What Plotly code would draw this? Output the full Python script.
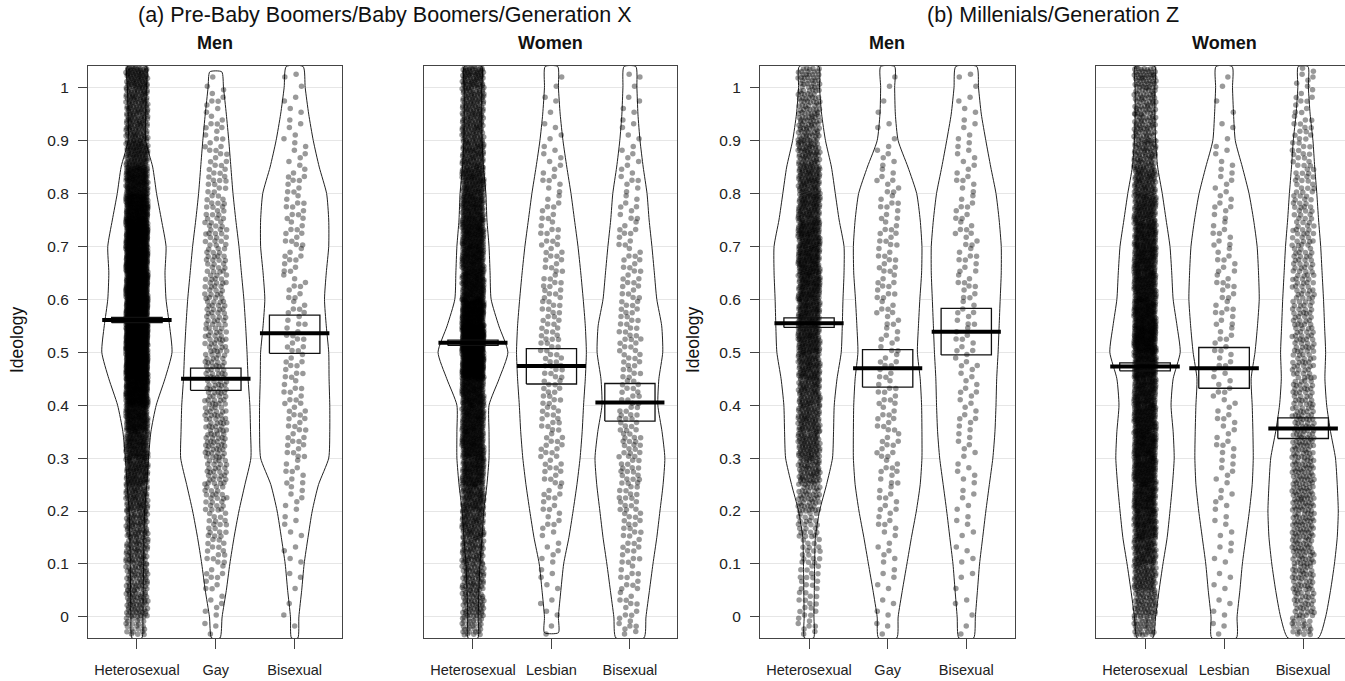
import plotly.graph_objects as go

# ---------------- data ----------------
CATS_MEN = ["Heterosexual", "Gay", "Bisexual"]
CATS_WOMEN = ["Heterosexual", "Lesbian", "Bisexual"]
Y_TICKS = [0, 0.1, 0.2, 0.3, 0.4, 0.5, 0.6, 0.7, 0.8, 0.9, 1]
Y_TICK_TEXT = ["0", "0.1", "0.2", "0.3", "0.4", "0.5", "0.6", "0.7", "0.8", "0.9", "1"]

# violin outline: relative density at these ideology levels
Y_GRID = [-0.04, 0.0, 0.05, 0.1, 0.15, 0.2, 0.25, 0.3, 0.35, 0.4, 0.45, 0.5,
          0.55, 0.6, 0.65, 0.7, 0.75, 0.8, 0.85, 0.9, 0.95, 1.0, 1.04]

DENS_A_MEN_HET = [0.14, 0.17, 0.18, 0.19, 0.20, 0.22, 0.28, 0.33, 0.40, 0.55, 0.80, 1.0,
                  0.93, 0.83, 0.80, 0.83, 0.70, 0.56, 0.45, 0.25, 0.25, 0.27, 0.27]
DENS_A_MEN_GAY = [0.12, 0.18, 0.30, 0.40, 0.52, 0.66, 0.83, 1.0, 0.99, 0.97, 0.92, 0.89,
                  0.85, 0.80, 0.73, 0.66, 0.57, 0.49, 0.43, 0.37, 0.30, 0.22, 0.17]
DENS_A_MEN_BI = [0.09, 0.12, 0.20, 0.27, 0.38, 0.50, 0.68, 0.97, 1.0, 1.0, 0.98, 0.97,
                 0.90, 0.85, 0.90, 0.97, 0.97, 0.91, 0.70, 0.53, 0.40, 0.30, 0.24]
DENS_A_WOM_HET = [0.14, 0.15, 0.17, 0.20, 0.26, 0.31, 0.40, 0.46, 0.46, 0.46, 0.75, 1.0,
                  0.74, 0.52, 0.49, 0.46, 0.40, 0.37, 0.30, 0.26, 0.25, 0.25, 0.25]
DENS_A_WOM_LES = [0.20, 0.20, 0.27, 0.35, 0.50, 0.62, 0.73, 0.82, 0.88, 0.92, 0.97, 1.0,
                  0.97, 0.91, 0.84, 0.76, 0.66, 0.56, 0.44, 0.33, 0.25, 0.20, 0.18]
DENS_A_WOM_BI = [0.40, 0.46, 0.56, 0.66, 0.77, 0.86, 0.95, 1.0, 0.92, 0.80, 0.83, 0.94,
                 0.91, 0.77, 0.70, 0.63, 0.55, 0.49, 0.38, 0.29, 0.23, 0.20, 0.17]
DENS_B_MEN_HET = [0.13, 0.14, 0.15, 0.16, 0.18, 0.30, 0.50, 0.67, 0.70, 0.72, 0.80, 0.92,
                  0.95, 0.97, 1.0, 1.0, 0.86, 0.75, 0.64, 0.47, 0.36, 0.30, 0.28]
DENS_B_MEN_GAY = [0.26, 0.30, 0.42, 0.55, 0.68, 0.82, 0.93, 0.98, 0.98, 0.97, 0.93, 0.85,
                  0.88, 0.92, 0.97, 0.98, 0.93, 0.83, 0.58, 0.30, 0.22, 0.20, 0.20]
DENS_B_MEN_BI = [0.21, 0.26, 0.32, 0.38, 0.47, 0.56, 0.66, 0.76, 0.82, 0.85, 0.87, 0.91,
                 0.94, 0.97, 1.0, 1.0, 0.94, 0.85, 0.70, 0.56, 0.43, 0.35, 0.30]
DENS_B_WOM_HET = [0.22, 0.30, 0.40, 0.51, 0.63, 0.71, 0.78, 0.83, 0.80, 0.74, 0.80, 1.0,
                  0.91, 0.80, 0.76, 0.71, 0.60, 0.49, 0.36, 0.30, 0.28, 0.28, 0.28]
DENS_B_WOM_LES = [0.35, 0.37, 0.45, 0.52, 0.62, 0.72, 0.80, 0.83, 0.82, 0.80, 0.77, 0.88,
                  0.95, 1.0, 0.98, 0.94, 0.84, 0.71, 0.52, 0.32, 0.27, 0.24, 0.23]
DENS_B_WOM_BI = [0.43, 0.64, 0.78, 0.89, 0.97, 1.0, 0.97, 0.92, 0.78, 0.67, 0.62, 0.64,
                 0.61, 0.58, 0.54, 0.50, 0.44, 0.39, 0.33, 0.28, 0.20, 0.15, 0.14]

# data extent of each violin (min, max ideology)
EXT_A_MEN = [(-0.04, 1.04), (-0.04, 1.03), (-0.04, 1.04)]
EXT_A_WOM = [(-0.04, 1.04), (-0.03, 1.04), (-0.04, 1.04)]
EXT_B_MEN = [(-0.04, 1.04), (-0.04, 1.04), (-0.04, 1.04)]
EXT_B_WOM = [(-0.04, 1.04), (-0.04, 1.04), (-0.04, 1.04)]

# respondents per 0.05-wide ideology bin (bins from -0.05 to 1.05)
BIN_LO = [-0.035, 0.0, 0.05, 0.1, 0.15, 0.2, 0.25, 0.3, 0.35, 0.4, 0.45,
          0.5, 0.55, 0.6, 0.65, 0.7, 0.75, 0.8, 0.85, 0.9, 0.95, 1.0]
BIN_HI = [0.0, 0.05, 0.1, 0.15, 0.2, 0.25, 0.3, 0.35, 0.4, 0.45, 0.5,
          0.55, 0.6, 0.65, 0.7, 0.75, 0.8, 0.85, 0.9, 0.95, 1.0, 1.04]

CNT_A_MEN_HET = [21, 63, 63, 70, 77, 91, 112, 133, 168, 238, 336, 350, 308, 280, 287, 266, 224, 168, 112, 91, 91, 84]
CNT_A_MEN_GAY = [3, 6, 10, 14, 18, 24, 30, 36, 34, 33, 32, 30, 28, 26, 24, 22, 18, 15, 12, 10, 8, 2]
CNT_A_MEN_BI = [1, 2, 3, 4, 5, 7, 9, 12, 12, 11, 11, 11, 10, 9, 10, 11, 11, 10, 7, 5, 4, 3]
CNT_A_WOM_HET = [28, 63, 70, 77, 91, 105, 133, 154, 154, 168, 280, 364, 238, 175, 161, 154, 133, 119, 98, 87, 84, 77]
CNT_A_WOM_LES = [2, 4, 5, 6, 8, 10, 12, 13, 14, 14, 15, 15, 14, 13, 12, 11, 9, 8, 6, 4, 3, 2]
CNT_A_WOM_BI = [8, 10, 11, 12, 14, 16, 18, 19, 17, 14, 14, 15, 14, 12, 11, 10, 9, 8, 6, 5, 4, 3]
CNT_B_MEN_HET = [8, 14, 15, 18, 25, 45, 72, 85, 88, 91, 104, 117, 120, 126, 130, 124, 107, 94, 75, 57, 46, 36]
CNT_B_MEN_GAY = [3, 4, 5, 6, 8, 9, 10, 11, 11, 11, 10, 9, 10, 11, 11, 11, 10, 9, 6, 3, 2, 2]
CNT_B_MEN_BI = [2, 3, 3, 4, 5, 5, 6, 7, 8, 8, 8, 9, 9, 10, 10, 10, 9, 8, 7, 5, 4, 3]
CNT_B_WOM_HET = [33, 65, 85, 104, 124, 137, 150, 156, 150, 143, 163, 195, 169, 150, 143, 130, 111, 91, 72, 59, 55, 52]
CNT_B_WOM_LES = [3, 4, 4, 5, 5, 6, 7, 8, 8, 8, 8, 9, 10, 10, 9, 9, 8, 7, 5, 3, 2, 2]
CNT_B_WOM_BI = [20, 35, 40, 45, 48, 50, 48, 45, 38, 33, 31, 32, 30, 28, 27, 25, 22, 19, 16, 13, 10, 7]

# group means and 95% confidence intervals
MEAN_A_MEN = [0.561, 0.450, 0.536]
CILO_A_MEN = [0.556, 0.428, 0.498]
CIHI_A_MEN = [0.566, 0.470, 0.570]
MEAN_A_WOM = [0.518, 0.474, 0.405]
CILO_A_WOM = [0.513, 0.440, 0.370]
CIHI_A_WOM = [0.523, 0.507, 0.441]
MEAN_B_MEN = [0.555, 0.470, 0.539]
CILO_B_MEN = [0.547, 0.434, 0.495]
CIHI_B_MEN = [0.565, 0.505, 0.583]
MEAN_B_WOM = [0.473, 0.470, 0.356]
CILO_B_WOM = [0.465, 0.432, 0.337]
CIHI_B_WOM = [0.480, 0.509, 0.376]

# ---------------- layout constants ----------------
W, H = 1345, 681
FONT = "Liberation Sans, Arial, Helvetica, sans-serif"
VIOLIN_HW = 0.445   # max half-width of a violin (category units)
MEAN_HW = 0.44
BOX_HW = 0.32
JITTER = 0.14

PANELS = [
    dict(cats=CATS_MEN, dens=[DENS_A_MEN_HET, DENS_A_MEN_GAY, DENS_A_MEN_BI], ext=EXT_A_MEN,
         cnt=[CNT_A_MEN_HET, CNT_A_MEN_GAY, CNT_A_MEN_BI],
         mean=MEAN_A_MEN, lo=CILO_A_MEN, hi=CIHI_A_MEN,
         px=(88, 342), xr=[0.38, 3.6], ylab=True),
    dict(cats=CATS_WOMEN, dens=[DENS_A_WOM_HET, DENS_A_WOM_LES, DENS_A_WOM_BI], ext=EXT_A_WOM,
         cnt=[CNT_A_WOM_HET, CNT_A_WOM_LES, CNT_A_WOM_BI],
         mean=MEAN_A_WOM, lo=CILO_A_WOM, hi=CIHI_A_WOM,
         px=(424, 677), xr=[0.376, 3.6], ylab=False),
    dict(cats=CATS_MEN, dens=[DENS_B_MEN_HET, DENS_B_MEN_GAY, DENS_B_MEN_BI], ext=EXT_B_MEN,
         cnt=[CNT_B_MEN_HET, CNT_B_MEN_GAY, CNT_B_MEN_BI],
         mean=MEAN_B_MEN, lo=CILO_B_MEN, hi=CIHI_B_MEN,
         px=(760, 1015), xr=[0.376, 3.62], ylab=True),
    dict(cats=CATS_WOMEN, dens=[DENS_B_WOM_HET, DENS_B_WOM_LES, DENS_B_WOM_BI], ext=EXT_B_WOM,
         cnt=[CNT_B_WOM_HET, CNT_B_WOM_LES, CNT_B_WOM_BI],
         mean=MEAN_B_WOM, lo=CILO_B_WOM, hi=CIHI_B_WOM,
         px=(1096, 1345), xr=[0.38, 3.53], ylab=False),
]

A1, A2 = 0.7548776662, 0.5698402910


def jitter_points(center, counts):
    xs, ys = [], []
    k = 0
    for lo, hi, n in zip(BIN_LO, BIN_HI, counts):
        for j in range(n):
            ys.append(lo + (hi - lo) * ((0.5 + j * A2) % 1.0))
            xs.append(center + JITTER * (2 * ((0.5 + k * A1) % 1.0) - 1))
            k += 1
    return xs, ys


fig = go.Figure()
ydom = [1 - 638 / H, 1 - 66 / H]

for i, p in enumerate(PANELS):
    xa = "x" if i == 0 else f"x{i+1}"
    ya = "y" if i == 0 else f"y{i+1}"
    # violins
    for g in range(3):
        c = g + 1
        yy = list(Y_GRID)
        yy[0], yy[-1] = p["ext"][g]
        d = p["dens"][g]
        xr = [c + VIOLIN_HW * v for v in d]
        xl = [c - VIOLIN_HW * v for v in d]
        fig.add_trace(go.Scatter(
            x=xr + xl[::-1] + [xr[0]], y=yy + yy[::-1] + [yy[0]],
            mode="lines", fill="toself", fillcolor="white",
            line=dict(color="#222", width=1, shape="spline", smoothing=0.6),
            xaxis=xa, yaxis=ya, hoverinfo="skip"))
    # points
    for g in range(3):
        xs, ys = jitter_points(g + 1, p["cnt"][g])
        fig.add_trace(go.Scatter(
            x=xs, y=ys, mode="markers",
            marker=dict(size=5.5, color="rgba(0,0,0,0.40)", line=dict(width=0)),
            xaxis=xa, yaxis=ya, hoverinfo="skip"))
    # CI boxes and means
    for g in range(3):
        c = g + 1
        lo, hi, m = p["lo"][g], p["hi"][g], p["mean"][g]
        fig.add_trace(go.Scatter(
            x=[c - BOX_HW, c + BOX_HW, c + BOX_HW, c - BOX_HW, c - BOX_HW],
            y=[lo, lo, hi, hi, lo], mode="lines",
            line=dict(color="#111", width=1.3),
            xaxis=xa, yaxis=ya, hoverinfo="skip"))
        fig.add_trace(go.Scatter(
            x=[c - MEAN_HW, c + MEAN_HW], y=[m, m], mode="lines",
            line=dict(color="black", width=4),
            xaxis=xa, yaxis=ya, hoverinfo="skip"))

    x0, x1 = p["px"]
    last = (i == 3)
    fig.layout[("xaxis" if i == 0 else f"xaxis{i+1}")] = dict(
        domain=[x0 / W, x1 / W], range=p["xr"], anchor=ya,
        tickmode="array", tickvals=[1, 2, 3], ticktext=p["cats"],
        ticks="outside", ticklen=10, tickcolor="#444", tickwidth=1,
        ticklabelstandoff=9,
        tickfont=dict(family=FONT, size=14.5, color="#222"),
        showline=True, linecolor="#444", linewidth=1, mirror=True,
        showgrid=False, zeroline=False, fixedrange=True)
    fig.layout[("yaxis" if i == 0 else f"yaxis{i+1}")] = dict(
        domain=ydom, range=[-0.04, 1.041], anchor=xa,
        tickmode="array", tickvals=Y_TICKS, ticktext=Y_TICK_TEXT,
        showticklabels=p["ylab"], ticks="outside" if p["ylab"] else "",
        ticklen=9, tickcolor="#444", ticklabelstandoff=6,
        tickfont=dict(family=FONT, size=15.5, color="#222"),
        showline=True, linecolor="#444", linewidth=1, mirror=not last,
        showgrid=True, gridcolor="#e6e6e6", gridwidth=1,
        zeroline=False, fixedrange=True)

ann = []


def add_text(text, xpx, ypx, size, bold=False, angle=0):
    ann.append(dict(text=f"<b>{text}</b>" if bold else text, x=xpx / W, y=1 - ypx / H,
                    xref="paper", yref="paper", xanchor="center", yanchor="middle",
                    showarrow=False, textangle=angle,
                    font=dict(family=FONT, size=size, color="#111")))


add_text("(a) Pre-Baby Boomers/Baby Boomers/Generation X", 385, 15, 21.5)
add_text("(b) Millenials/Generation Z", 1053, 15, 21.5)
add_text("Men", 215, 43, 18, bold=True)
add_text("Women", 550, 43, 18, bold=True)
add_text("Men", 887, 43, 18, bold=True)
add_text("Women", 1224, 43, 18, bold=True)
add_text("Ideology", 17, 340, 17.5, angle=-90)
add_text("Ideology", 693, 340, 17.5, angle=-90)

fig.update_layout(
    width=W, height=H, margin=dict(l=0, r=0, t=0, b=0),
    paper_bgcolor="white", plot_bgcolor="white",
    showlegend=False, annotations=ann,
    font=dict(family=FONT))

fig.write_html("out.html",
               config={"displayModeBar": False},
               post_script="document.body.style.margin='0px';"
                           "document.body.style.overflow='hidden';")
